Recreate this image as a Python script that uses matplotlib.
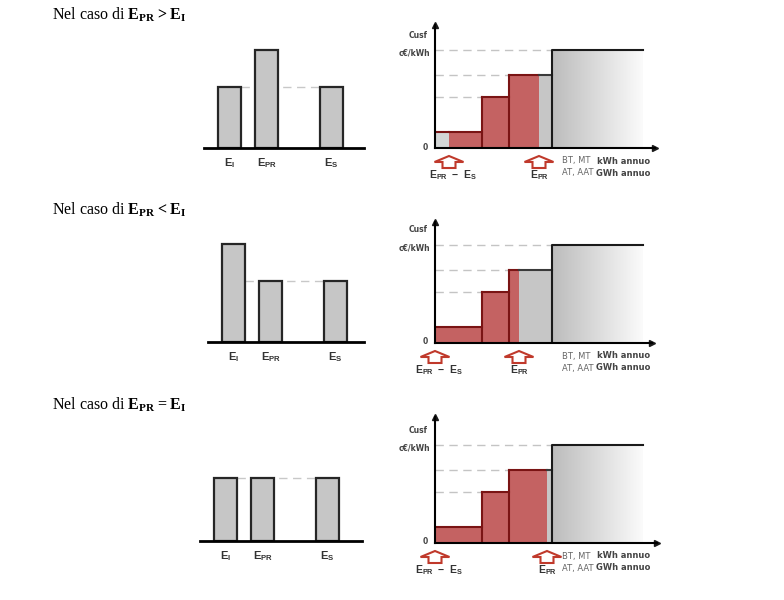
import numpy as np
import matplotlib
matplotlib.use('Agg')
from matplotlib import pyplot as plt
from matplotlib.patches import FancyArrow
from matplotlib.colors import LinearSegmentedColormap

plt.rcParams['mathtext.fontset'] = 'custom'
plt.rcParams['mathtext.rm'] = 'Liberation Serif'
plt.rcParams['mathtext.bf'] = 'Liberation Serif:bold'
plt.rcParams['mathtext.sf'] = 'Liberation Sans:bold'

W, H = 784, 600

# --- data ---
titles = [r'Nel caso di $\mathbf{E_{PR} > E_{I}}$',
          r'Nel caso di $\mathbf{E_{PR} < E_{I}}$',
          r'Nel caso di $\mathbf{E_{PR} = E_{I}}$']
bar_labels = [r'$\mathsf{E_{I}}$', r'$\mathsf{E_{PR}}$', r'$\mathsf{E_{S}}$']
bar_pos = [1.0, 2.0, 3.75]
bars_gt = [61, 98, 61]
bars_lt = [98, 61, 61]
bars_eq = [63, 63, 63]

tier_edges = [0, 47, 74, 117, 208]
tier_heights = [16, 51, 73, 98]
epr_minus_es = [14, 0, 0]
epr = [104, 84, 112]

# pixel boxes: (x0, x1, baseline, top)
bar_boxes = [(204, 364, 148, 38), (208, 364, 342, 232), (200, 362, 541, 431)]
step_boxes = [(435, 655, 148, 25), (435, 652, 343, 222), (435, 657, 543, 417)]
title_y = [15, 210, 405]

RED = '#c46262'
RED_EDGE = '#7a1414'
GRAY = '#c6c6c6'
GRAY_EDGE = '#3a3a3a'
ARROW_RED = '#c0392b'
grad = LinearSegmentedColormap.from_list('grad', ['#bcbcbc', '#fbfbfb'])


def px_axes(fig, x0, x1, base, top):
    return fig.add_axes([x0 / W, 1 - base / H, (x1 - x0) / W, (base - top) / H])


def bar_panel(fig, box, heights):
    x0, x1, base, top = box
    ax = px_axes(fig, x0, x1, base, top)
    w = 0.62
    ax.bar(bar_pos, heights, width=w, color=GRAY, edgecolor='#262626',
           linewidth=1.6, zorder=2)
    ax.plot([bar_pos[0] + w / 2, bar_pos[2] - w / 2], [heights[2]] * 2,
            ls=(0, (6, 4)), color='#c8c8c8', lw=1, zorder=1)
    for p, lab in zip(bar_pos, bar_labels):
        ax.text(p, -15, lab, ha='center', va='center', fontsize=8, color='#333333')
    ax.set_xlim(0.3, 0.3 + (x1 - x0) / 37)
    ax.set_ylim(0, base - top)
    for s in ['top', 'right', 'left']:
        ax.spines[s].set_visible(False)
    ax.spines['bottom'].set_linewidth(2)
    ax.set_xticks([])
    ax.set_yticks([])
    ax.patch.set_alpha(0)


def up_arrow(ax, x):
    ax.add_patch(FancyArrow(x, -20, 0, 12, width=13, head_width=29, head_length=6,
                            length_includes_head=True, facecolor='white',
                            edgecolor=ARROW_RED, lw=1.5, clip_on=False))


def step_panel(fig, box, a, b):
    x0, x1, base, top = box
    ax = px_axes(fig, x0, x1, base, top)
    n = len(tier_heights)
    for i in range(n):
        e0, e1, h = tier_edges[i], tier_edges[i + 1], tier_heights[i]
        if i > 0:
            ax.plot([0, e0], [h, h], ls=(0, (6, 4)), color='#c4c4c4', lw=1, zorder=0)
        if i == n - 1:
            ax.imshow(np.linspace(0, 1, 256)[None, :], cmap=grad, aspect='auto',
                      extent=[e0, e1, 0, h], zorder=1)
            ax.plot([e0, e0, e1], [0, h, h], color='#1a1a1a', lw=1.5, zorder=4)
            continue
        lo = min(max(a, e0), e1)
        hi = min(max(b, e0), e1)
        segs = [(e0, lo, '#d3d6d6', RED_EDGE), (lo, hi, RED, RED_EDGE), (hi, e1, GRAY, GRAY_EDGE)]
        for s0, s1, fc, ec in segs:
            if s1 <= s0:
                continue
            ax.bar(s0, h, width=s1 - s0, align='edge', color=fc, lw=0, zorder=2)
            ax.plot([s0, s1], [h, h], color=ec, lw=1.5, zorder=3)
        if i > 0:
            vc = RED_EDGE if (lo == e0 and hi > lo) else GRAY_EDGE
            ax.plot([e0, e0], [0, h], color=vc, lw=1.5, zorder=3)

    ax.set_xlim(0, x1 - x0)
    ax.set_ylim(0, base - top)
    for s in ['top', 'right']:
        ax.spines[s].set_visible(False)
    for s in ['left', 'bottom']:
        ax.spines[s].set_linewidth(1.5)
        ax.spines[s].set_zorder(5)
    ax.plot(1, 0, '>', color='#1a1a1a', ms=4, transform=ax.get_yaxis_transform(), clip_on=False)
    ax.plot(0, 1, '^', color='#1a1a1a', ms=4, transform=ax.get_xaxis_transform(), clip_on=False)
    ax.set_xticks([])
    ax.set_yticks([])
    ax.patch.set_alpha(0)

    ax.text(-7, 113, 'Cusf', ha='right', va='center', fontsize=5.5,
            fontweight='bold', color='#444444', clip_on=False)
    ax.text(-5, 95, 'c€/kWh', ha='right', va='center', fontsize=5.5,
            fontweight='bold', color='#444444', clip_on=False)
    ax.text(-7, 1, '0', ha='right', va='center', fontsize=5.5,
            fontweight='bold', color='#444444')

    up_arrow(ax, a)
    up_arrow(ax, b)
    ax.text(a + 4, -27, r'$\mathsf{E_{PR}\ -\ E_{S}}$', ha='center', va='center',
            fontsize=7.5, color='#333333')
    ax.text(b, -27, r'$\mathsf{E_{PR}}$', ha='center', va='center',
            fontsize=7.5, color='#333333')
    ax.text(127, -13, 'BT, MT', ha='left', va='center', fontsize=6, color='#666666')
    ax.text(215, -13, 'kWh annuo', ha='right', va='center', fontsize=6,
            fontweight='bold', color='#444444')
    ax.text(127, -25, 'AT, AAT', ha='left', va='center', fontsize=6, color='#666666')
    ax.text(215, -25, 'GWh annuo', ha='right', va='center', fontsize=6,
            fontweight='bold', color='#444444')


fig = plt.figure(figsize=(W / 100, H / 100), dpi=100)
fig.patch.set_facecolor('white')

for k, heights in enumerate([bars_gt, bars_lt, bars_eq]):
    fig.text(52 / W, 1 - title_y[k] / H, titles[k], fontsize=11.5,
             family='Liberation Serif', va='center', ha='left')
    bar_panel(fig, bar_boxes[k], heights)
    step_panel(fig, step_boxes[k], epr_minus_es[k], epr[k])

fig.savefig('out.png', dpi=100)
